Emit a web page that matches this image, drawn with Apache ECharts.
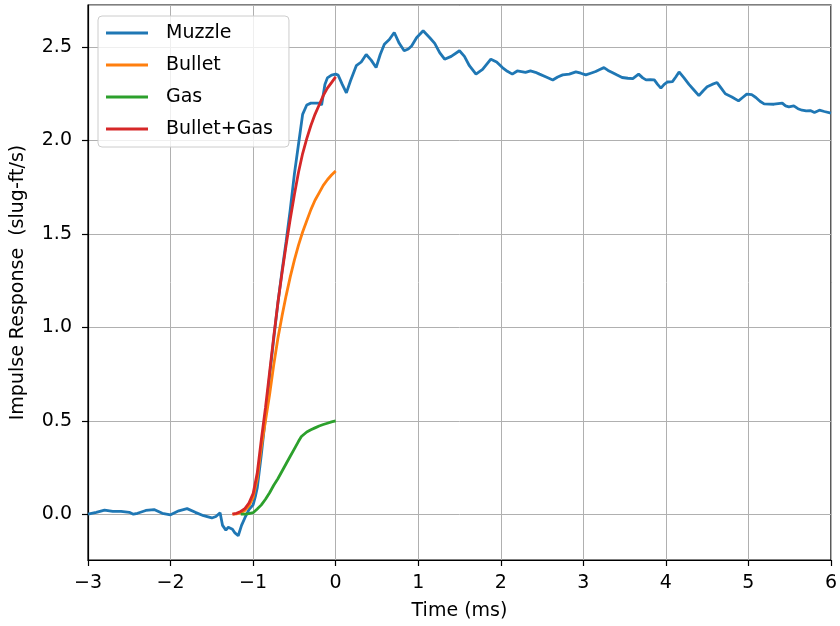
<!DOCTYPE html>
<html>
<head>
<meta charset="utf-8">
<script src="https://cdn.jsdelivr.net/npm/echarts@6/dist/echarts.min.js"></script>
<style>
html,body{margin:0;padding:0;background:#fff;}
#c{width:840px;height:626px;}
</style>
</head>
<body>
<div id="c"></div>
<script>
// ---- data ----
var seriesNames = ['Muzzle', 'Bullet', 'Gas', 'Bullet+Gas'];
var xTicks = [-3, -2, -1, 0, 1, 2, 3, 4, 5, 6];
var yTicks = [0.0, 0.5, 1.0, 1.5, 2.0, 2.5];

var muzzleT = [-3.0,-2.9,-2.8,-2.7,-2.6,-2.5,-2.45,-2.4,-2.3,-2.2,-2.1,-2.0,-1.9,-1.8,-1.7,-1.6,-1.5,-1.45,-1.4,-1.37,-1.33,-1.3,-1.25,-1.22,-1.18,-1.14,-1.1,-1.05,-1.0,-0.97,-0.95,-0.9,-0.85,-0.8,-0.75,-0.7,-0.65,-0.6,-0.55,-0.5,-0.45,-0.4,-0.35,-0.3,-0.25,-0.2,-0.17,-0.13,-0.1,-0.05,0.0,0.03,0.08,0.13,0.18,0.25,0.31,0.37,0.43,0.49,0.54,0.59,0.65,0.71,0.77,0.83,0.88,0.92,0.98,1.06,1.14,1.2,1.26,1.32,1.4,1.5,1.56,1.62,1.7,1.78,1.88,1.95,2.02,2.08,2.14,2.2,2.25,2.3,2.36,2.42,2.47,2.55,2.63,2.69,2.75,2.83,2.91,2.97,3.03,3.09,3.15,3.2,3.25,3.3,3.35,3.41,3.47,3.54,3.6,3.67,3.72,3.76,3.81,3.86,3.9,3.94,3.98,4.02,4.08,4.12,4.16,4.22,4.28,4.34,4.4,4.45,4.5,4.56,4.62,4.67,4.72,4.8,4.88,4.93,4.98,5.04,5.09,5.14,5.19,5.25,5.31,5.36,5.41,5.45,5.49,5.55,5.6,5.65,5.7,5.75,5.8,5.86,5.92,6.0];
var muzzleY = [0.0,0.01,0.022,0.015,0.015,0.01,0.0,0.005,0.02,0.025,0.005,-0.003,0.018,0.03,0.01,-0.008,-0.02,-0.012,0.008,-0.06,-0.085,-0.07,-0.08,-0.1,-0.115,-0.06,-0.02,0.025,0.05,0.1,0.14,0.32,0.52,0.74,0.94,1.13,1.3,1.46,1.63,1.82,1.98,2.14,2.19,2.2,2.2,2.2,2.19,2.3,2.335,2.35,2.355,2.35,2.3,2.255,2.32,2.40,2.42,2.46,2.43,2.39,2.46,2.515,2.54,2.578,2.52,2.48,2.49,2.506,2.55,2.587,2.55,2.52,2.47,2.435,2.45,2.48,2.45,2.4,2.355,2.38,2.435,2.42,2.39,2.37,2.355,2.372,2.368,2.364,2.372,2.365,2.355,2.34,2.324,2.34,2.351,2.355,2.367,2.36,2.351,2.36,2.369,2.38,2.39,2.375,2.364,2.35,2.337,2.333,2.331,2.355,2.335,2.324,2.325,2.324,2.3,2.28,2.3,2.313,2.315,2.34,2.367,2.335,2.3,2.27,2.24,2.265,2.287,2.3,2.31,2.28,2.25,2.233,2.212,2.23,2.248,2.245,2.23,2.21,2.196,2.195,2.194,2.197,2.2,2.185,2.18,2.185,2.17,2.162,2.158,2.16,2.15,2.162,2.155,2.146];

var bulletT = [-1.25,-1.2,-1.15,-1.1,-1.05,-1.0,-0.95,-0.9,-0.85,-0.8,-0.75,-0.7,-0.65,-0.6,-0.55,-0.5,-0.45,-0.4,-0.35,-0.3,-0.25,-0.2,-0.15,-0.1,-0.05,0.0];
var bulletY = [0.0,0.002,0.008,0.02,0.045,0.09,0.19,0.36,0.5,0.64,0.8,0.94,1.06,1.17,1.27,1.36,1.44,1.51,1.57,1.63,1.68,1.72,1.76,1.79,1.815,1.837];

var gasT = [-1.15,-1.1,-1.05,-1.0,-0.95,-0.9,-0.85,-0.8,-0.75,-0.7,-0.65,-0.6,-0.55,-0.5,-0.45,-0.415,-0.4,-0.35,-0.3,-0.25,-0.2,-0.15,-0.1,-0.05,0.0];
var gasY = [0.0,0.001,0.003,0.008,0.028,0.05,0.08,0.115,0.155,0.19,0.23,0.27,0.31,0.35,0.39,0.416,0.425,0.44,0.452,0.462,0.472,0.48,0.487,0.494,0.50];

var sumT = [-1.25,-1.2,-1.15,-1.1,-1.05,-1.0,-0.95,-0.9,-0.85,-0.8,-0.75,-0.7,-0.65,-0.6,-0.55,-0.5,-0.45,-0.4,-0.35,-0.3,-0.25,-0.2,-0.15,-0.1,-0.05,0.0];
var sumY = [0.0,0.005,0.015,0.03,0.06,0.11,0.22,0.4,0.57,0.76,0.95,1.13,1.29,1.44,1.58,1.71,1.83,1.93,2.01,2.08,2.14,2.19,2.24,2.28,2.31,2.34];

var colors = ['#1f77b4', '#ff7f0e', '#2ca02c', '#d62728'];

function zip(t, y) { return t.map(function (v, i) { return [v, y[i]]; }); }
var FONT = 'DejaVu Sans';
function fmtMinus(v) { return String(v).replace('-', '\u2212'); }

var chart = echarts.init(document.getElementById('c'), null, {renderer: 'canvas'});
var mk = function (name, data, color) {
  return {
    name: name, type: 'line', data: data, showSymbol: false, symbol: 'none',
    color: color, lineStyle: {color: color, width: 2.8}, smooth: false, animation: false,
    z: 3
  };
};
chart.setOption({
  animation: false,
  grid: {left: 88, right: 8, top: 5, bottom: 66, show: true, borderColor: '#000', borderWidth: 1.2, backgroundColor: 'transparent'},
  legend: {
    data: seriesNames, orient: 'vertical', left: 98, top: 16,
    icon: 'rect', itemWidth: 42, itemHeight: 3, itemGap: 12,
    padding: [7, 16, 8, 8], borderColor: '#cccccc', borderWidth: 1, borderRadius: 4,
    backgroundColor: 'rgba(255,255,255,0.8)',
    textStyle: {fontFamily: FONT, fontSize: 19, color: '#000', lineHeight: 20, padding: [0, 0, 0, 13]}
  },
  xAxis: {
    type: 'value', min: xTicks[0], max: xTicks[xTicks.length - 1], interval: 1,
    name: 'Time (ms)', nameLocation: 'middle', nameGap: 42,
    nameTextStyle: {fontFamily: FONT, fontSize: 19, color: '#000'},
    axisLine: {show: true, onZero: false, lineStyle: {color: '#000', width: 1.2}},
    axisTick: {show: true, inside: false, length: 6, lineStyle: {color: '#000', width: 1.2}},
    axisLabel: {fontFamily: FONT, fontSize: 19, color: '#000', margin: 14, formatter: function (v) { return fmtMinus(v); }},
    splitLine: {show: true, lineStyle: {color: '#b0b0b0', width: 1}}
  },
  yAxis: {
    type: 'value', min: -0.245, max: 2.725, splitNumber: 6,
    name: 'Impulse Response  (slug-ft/s)', nameLocation: 'middle', nameGap: 60,
    nameTextStyle: {fontFamily: FONT, fontSize: 19, color: '#000'},
    axisLine: {show: true, onZero: false, lineStyle: {color: '#000', width: 1.2}},
    axisTick: {show: true, inside: false, length: 6, lineStyle: {color: '#000', width: 1.2}},
    axisLabel: {fontFamily: FONT, fontSize: 19, color: '#000', margin: 16, showMinLabel: false, showMaxLabel: false,
      formatter: function (v) { return yTicks.indexOf(v) >= 0 ? v.toFixed(1) : ''; }},
    splitLine: {show: true, lineStyle: {color: '#b0b0b0', width: 1}}
  },
  series: [
    mk(seriesNames[0], zip(muzzleT, muzzleY), colors[0]),
    mk(seriesNames[1], zip(bulletT, bulletY), colors[1]),
    mk(seriesNames[2], zip(gasT, gasY), colors[2]),
    mk(seriesNames[3], zip(sumT, sumY), colors[3])
  ]
});
</script>
</body>
</html>
